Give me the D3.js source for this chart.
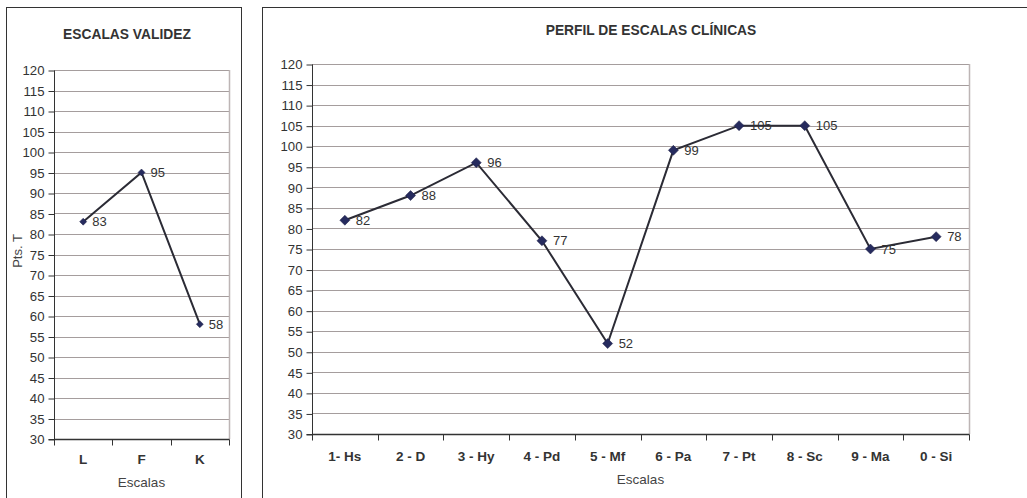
<!DOCTYPE html>
<html>
<head>
<meta charset="utf-8">
<script src="https://cdn.jsdelivr.net/npm/d3@7"></script>
<style>
  html, body { margin: 0; padding: 0; background: #fff; }
  svg { display: block; font-family: "Liberation Sans", Arial, sans-serif; }
</style>
</head>
<body>
<svg id="chart" width="1027" height="498"></svg>
<script>
// Validity scales
const validezCategories = ["L", "F", "K"];
const validezValues = [83, 95, 58];

// Clinical scales
const clinicasCategories = ["1- Hs", "2 - D", "3 - Hy", "4 - Pd", "5 - Mf", "6 - Pa", "7 - Pt", "8 - Sc", "9 - Ma", "0 - Si"];
const clinicasValues = [82, 88, 96, 77, 52, 99, 105, 105, 75, 78];

// Shared T-score axis
const yTicks = d3.range(30, 121, 5);
const yDomain = [30, 120];

const svg = d3.select("#chart");

function drawPanel(opts) {
  const g = svg.append("g");
  // outer frame
  g.append("rect")
    .attr("x", opts.frame[0] + 0.5).attr("y", opts.frame[1] + 0.5)
    .attr("width", opts.frame[2]).attr("height", opts.frame[3])
    .attr("fill", "#fff").attr("stroke", "#333").attr("stroke-width", 1);

  const x = d3.scaleBand().domain(opts.categories).range([opts.plot.left, opts.plot.right]);
  const y = d3.scaleLinear().domain(yDomain).range([opts.plot.bottom, opts.plot.top]);

  // horizontal gridlines
  g.append("g").selectAll("line").data(yTicks.filter(t => t > 30)).join("line")
    .attr("x1", opts.plot.left).attr("x2", opts.plot.right)
    .attr("y1", d => Math.round(y(d)) + 0.5).attr("y2", d => Math.round(y(d)) + 0.5)
    .attr("stroke", "#a59d9d").attr("stroke-width", 1);

  // right border of plot area
  g.append("line")
    .attr("x1", opts.plot.right + 0.5).attr("x2", opts.plot.right + 0.5)
    .attr("y1", opts.plot.top).attr("y2", opts.plot.bottom)
    .attr("stroke", "#bdb5b5").attr("stroke-width", 1.5);

  // y axis
  const yAxis = d3.axisLeft(y).tickValues(yTicks).tickSize(6).tickPadding(4);
  const ya = g.append("g").attr("transform", `translate(${opts.plot.left + 0.5},0.5)`).call(yAxis);
  ya.select(".domain").attr("stroke", "#333").attr("d", `M-6,${opts.plot.bottom}H0V${opts.plot.top}`);
  ya.selectAll(".tick line").attr("stroke", "#333");
  ya.selectAll(".tick text").attr("fill", "#333").style("font-size", "13.2px")
    .style("font-family", "'Liberation Sans', Arial, sans-serif");

  // x axis with ticks at band boundaries
  const xa = g.append("g").attr("transform", `translate(0,${opts.plot.bottom + 0.5})`);
  xa.append("line").attr("x1", opts.plot.left).attr("x2", opts.plot.right + 0.5)
    .attr("stroke", "#333").attr("stroke-width", 1.5);
  const bounds = opts.categories.map(c => x(c)).concat([opts.plot.right]);
  xa.selectAll("line.tk").data(bounds).join("line").attr("class", "tk")
    .attr("x1", d => Math.round(d) + 0.5).attr("x2", d => Math.round(d) + 0.5)
    .attr("y1", 0).attr("y2", 6).attr("stroke", "#333");
  xa.selectAll("text").data(opts.categories).join("text")
    .attr("x", d => x(d) + x.bandwidth() / 2).attr("y", opts.catDy)
    .attr("text-anchor", "middle").attr("fill", "#333")
    .style("font-size", "13.5px").style("font-weight", "bold").text(d => d);

  // titles
  g.append("text").attr("x", opts.titleX).attr("y", opts.titleY)
    .attr("text-anchor", "middle").attr("fill", "#333")
    .style("font-size", "13.8px").style("font-weight", "bold").text(opts.title);
  g.append("text").attr("x", (opts.plot.left + opts.plot.right) / 2).attr("y", opts.xTitleY)
    .attr("text-anchor", "middle").attr("fill", "#444")
    .style("font-size", "13.5px").text("Escalas");
  if (opts.yTitle) {
    g.append("text")
      .attr("transform", `translate(${opts.yTitleX},${opts.yTitleY}) rotate(-90)`)
      .attr("text-anchor", "middle").attr("fill", "#444")
      .style("font-size", "13px").text(opts.yTitle);
  }

  // series line
  const pts = opts.categories.map((c, i) => [x(c) + x.bandwidth() / 2, y(opts.values[i]), opts.values[i]]);
  g.append("path").datum(pts)
    .attr("d", d3.line().x(d => d[0]).y(d => d[1]))
    .attr("fill", "none").attr("stroke", "#2b2b35").attr("stroke-width", 2);

  // diamond markers
  const s = opts.marker;
  g.selectAll("path.mk").data(pts).join("path").attr("class", "mk")
    .attr("d", d => `M${d[0]},${d[1] - s}L${d[0] + s},${d[1]}L${d[0]},${d[1] + s}L${d[0] - s},${d[1]}Z`)
    .attr("fill", "#262b5e").attr("stroke", "#1c1f45").attr("stroke-width", 0.5);

  // value labels
  g.selectAll("text.lbl").data(pts).join("text").attr("class", "lbl")
    .attr("x", d => d[0] + opts.labelDx).attr("y", d => d[1]).attr("dy", "0.35em")
    .attr("fill", "#333").style("font-size", "13px").text(d => d[2]);
}

drawPanel({
  frame: [6, 7, 235, 500],
  plot: { left: 54, right: 229, top: 70, bottom: 439 },
  categories: validezCategories,
  values: validezValues,
  title: "ESCALAS VALIDEZ",
  titleX: 127, titleY: 39,
  catDy: 24, xTitleY: 487,
  yTitle: "Pts. T", yTitleX: 22, yTitleY: 251,
  marker: 3.5, labelDx: 9
});

drawPanel({
  frame: [262, 7, 800, 500],
  plot: { left: 312, right: 969, top: 64, bottom: 434 },
  categories: clinicasCategories,
  values: clinicasValues,
  title: "PERFIL DE ESCALAS CLÍNICAS",
  titleX: 651, titleY: 35,
  catDy: 26, xTitleY: 484,
  yTitle: null,
  marker: 5, labelDx: 11
});
</script>
</body>
</html>
